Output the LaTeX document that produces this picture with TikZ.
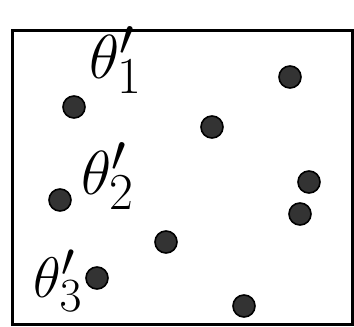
\documentclass[tikz,border=0pt]{standalone}
\begin{document}
\begin{tikzpicture}[x=1pt,y=-1pt,
  dot/.style={circle,fill=black!80,draw=black,line width=1.6pt,minimum size=22pt,inner sep=0pt},
  lbl/.style={font=\Huge,scale=2.5,inner sep=0pt}]
\useasboundingbox (0,0) rectangle (354,327);
\node[draw=black,line width=3pt,minimum width=340pt,minimum height=294pt,inner sep=0pt] (frame) at (182,177) {};
\node[dot] (d1) at (290,77) {};
\node[dot] (d2) at (212,127) {};
\node[dot] (d3) at (309,182) {};
\node[dot] (d4) at (300,214) {};
\node[dot] (d5) at (244,306) {};
\node[dot] (d6) at (74,107) {};
\node[dot] (d7) at (60,200) {};
\node[dot] (d8) at (166,242) {};
\node[dot] (d9) at (97,278) {};
\node[lbl] (t1) at (116,60) {$\theta'_1$};
\node[lbl] (t2) at (108,176) {$\theta'_2$};
\node[lbl,scale=0.92] (t3) at (58,281) {$\theta'_3$};
\end{tikzpicture}
\end{document}
